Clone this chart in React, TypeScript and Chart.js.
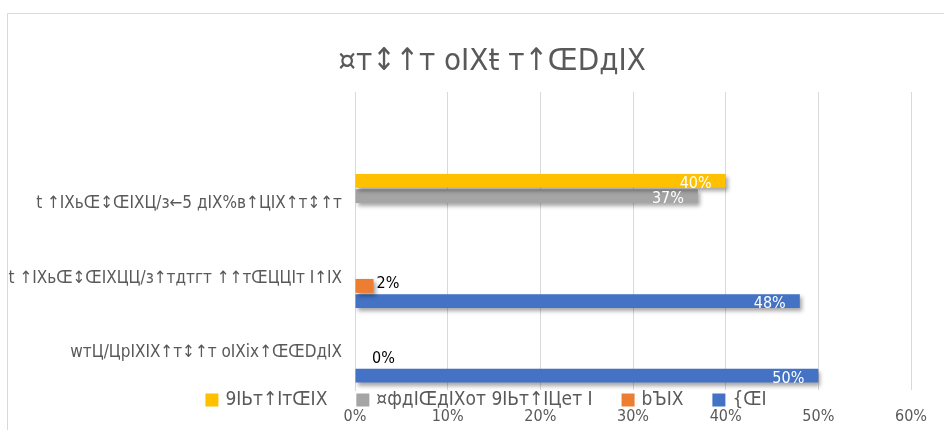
import React, { useEffect, useRef } from 'react';
import { Chart, registerables } from 'chart.js';

Chart.register(...registerables);

// ---- data ----
const titleText = '¤т↕↑т оIXŧ т↑ŒDдIX';
const categories = [
  '',
  't ↑IXьŒ↕ŒIXЦ/з←5 дIX%в↑ЦIX↑т↕↑т',
  't ↑IXьŒ↕ŒIXЦЦ/з↑тдтгт ↑↑тŒЦЦIт I↑IX',
  'wтЦ/ЦpIXIX↑т↕↑т оIXiх↑ŒŒDдIX',
];
const seriesNames = ['9IЬт↑IтŒIX', '¤фдIŒдIXот 9IЬт↑IЦет I', 'bЪIX', '{ŒI'];
const yellowValues = [null, 40, null, null];
const grayValues = [null, 37, null, null];
const orangeValues = [null, null, 2, 0];
const blueValues = [null, null, 48, 50];
const axisMin = 0;
const axisMax = 60;
const axisStep = 10;

// ---- styles ----
const FONT = '"Liberation Sans Narrow", "DejaVu Sans Condensed", "Liberation Sans", sans-serif';
const TEXT = '#595959';
const GRID = '#d9d9d9';
const seriesColors = ['#FFC000', '#A5A5A5', '#ED7D31', '#4472C4'];
const labelColors = ['#ffffff', '#ffffff', '#000000', '#ffffff'];
const labelInside = [true, true, false, true];

const frame = {
  id: 'frame',
  beforeDraw(chart: any) {
    const { ctx } = chart;
    ctx.save();
    ctx.fillStyle = '#ffffff';
    ctx.fillRect(0, 0, chart.width, chart.height);
    ctx.strokeStyle = GRID;
    ctx.lineWidth = 1;
    ctx.beginPath();
    ctx.moveTo(7.5, chart.height + 2);
    ctx.lineTo(7.5, 13.5);
    ctx.lineTo(chart.width + 2, 13.5);
    ctx.stroke();
    ctx.restore();
  },
};

// chart heading, centred over the upper part of the frame
const heading = {
  id: 'heading',
  afterDraw(chart: any) {
    const { ctx } = chart;
    ctx.save();
    ctx.font = `31px ${FONT}`;
    ctx.fillStyle = TEXT;
    ctx.textAlign = 'center';
    ctx.textBaseline = 'middle';
    ctx.fillText(titleText, 492, 62);
    ctx.restore();
  },
};

const barShadow = {
  id: 'barShadow',
  beforeDatasetsDraw(chart: any) {
    const { ctx } = chart;
    ctx.save();
    ctx.shadowColor = 'rgba(0,0,0,0.35)';
    ctx.shadowOffsetX = 2;
    ctx.shadowOffsetY = 3;
    ctx.shadowBlur = 4;
  },
  afterDatasetsDraw(chart: any) {
    chart.ctx.restore();
  },
};

const valueLabels = {
  id: 'valueLabels',
  afterDatasetsDraw(chart: any) {
    const { ctx } = chart;
    ctx.save();
    ctx.font = `16px ${FONT}`;
    ctx.textBaseline = 'middle';
    chart.data.datasets.forEach((ds: any, di: number) => {
      const meta = chart.getDatasetMeta(di);
      meta.data.forEach((bar: any, i: number) => {
        const v = ds.data[i];
        if (v === null || v === undefined) return;
        const text = `${v}%`;
        ctx.fillStyle = labelColors[di];
        if (labelInside[di]) {
          ctx.textAlign = 'right';
          ctx.fillText(text, bar.x - 14, bar.y + 3);
        } else {
          ctx.textAlign = 'left';
          ctx.fillText(text, Math.max(bar.x, bar.base + 14) + 3, bar.y - 2);
        }
      });
    });
    ctx.restore();
  },
};

const legendRow = {
  id: 'legendRow',
  afterDraw(chart: any) {
    const { ctx } = chart;
    const box = 13;
    const gapBoxText = 7;
    const gapItems = 29;
    const centerX = 486;
    const y = 400;
    ctx.save();
    ctx.font = `19px ${FONT}`;
    ctx.textBaseline = 'middle';
    ctx.textAlign = 'left';
    const widths = chart.data.datasets.map((d: any) => box + gapBoxText + ctx.measureText(d.label).width);
    const total = widths.reduce((a: number, b: number) => a + b, 0) + gapItems * (widths.length - 1);
    let x = centerX - total / 2;
    chart.data.datasets.forEach((d: any, i: number) => {
      ctx.fillStyle = d.backgroundColor;
      ctx.fillRect(x, y - box / 2, box, box);
      ctx.fillStyle = TEXT;
      ctx.fillText(d.label, x + box + gapBoxText, y);
      x += widths[i] + gapItems;
    });
    ctx.restore();
  },
};

export default function App() {
  const ref = useRef<HTMLCanvasElement>(null);

  useEffect(() => {
    if (!ref.current) return;
    const seriesValues = [yellowValues, grayValues, orangeValues, blueValues];
    const chart = new Chart(ref.current, {
      type: 'bar',
      data: {
        labels: categories,
        datasets: seriesValues.map((vals, i) => ({
          label: seriesNames[i],
          data: vals,
          backgroundColor: seriesColors[i],
          borderWidth: 0,
          categoryPercentage: 0.82,
          barPercentage: 0.91,
        })),
      },
      options: {
        indexAxis: 'y',
        responsive: false,
        maintainAspectRatio: false,
        animation: false,
        layout: { padding: { top: 92, right: 31, bottom: 0, left: 0 } },
        plugins: {
          legend: { display: false },
          tooltip: { enabled: false },
          title: { display: false },
        },
        scales: {
          x: {
            min: axisMin,
            max: axisMax,
            ticks: {
              stepSize: axisStep,
              color: TEXT,
              font: { family: FONT, size: 16 },
              padding: 17,
              callback: (v: any) => `${v}%`,
            },
            grid: { color: GRID, drawTicks: false },
            border: { display: false },
            afterFit: (s: any) => {
              s.height = 40;
            },
          },
          y: {
            ticks: {
              color: TEXT,
              font: { family: FONT, size: 17 },
              padding: 13,
            },
            grid: { display: false, drawTicks: false },
            border: { color: GRID },
            afterFit: (s: any) => {
              s.width = 355;
            },
          },
        },
      },
      plugins: [frame, barShadow, valueLabels, legendRow, heading],
    });
    return () => chart.destroy();
  }, []);

  return (
    <div style={{ position: 'fixed', left: 0, top: 0, width: 944, height: 430, background: '#fff' }}>
      <canvas ref={ref} width={944} height={430} style={{ display: 'block' }} />
    </div>
  );
}
